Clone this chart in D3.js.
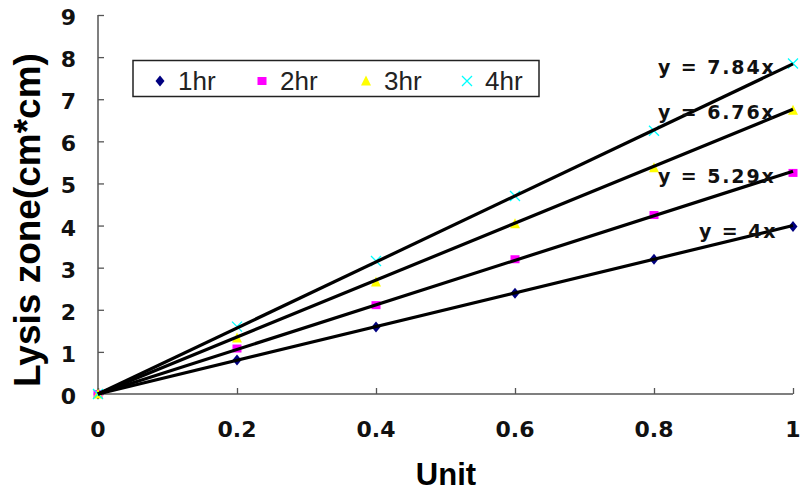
<!DOCTYPE html>
<html>
<head>
<meta charset="utf-8">
<script src="https://cdn.jsdelivr.net/npm/d3@7"></script>
<style>
  html, body { margin: 0; padding: 0; background: #fff; }
  svg { display: block; }
</style>
</head>
<body>
<svg id="chart" width="802" height="493"></svg>
<script>
// Lysis zone area per enzyme unit, measured after 1–4 hours
const units = [0, 0.2, 0.4, 0.6, 0.8, 1];
const seriesNames = ["1hr", "2hr", "3hr", "4hr"];
const lysis1hr = [0, 0.81, 1.59, 2.39, 3.2, 3.98];
const lysis2hr = [0, 1.08, 2.11, 3.2, 4.25, 5.25];
const lysis3hr = [0, 1.33, 2.66, 4.04, 5.37, 6.74];
const lysis4hr = [0, 1.6, 3.16, 4.7, 6.25, 7.85];
const slopes = [4, 5.29, 6.76, 7.84];
const xTicks = [0, 0.2, 0.4, 0.6, 0.8, 1];
const xTickLabels = ["0", "0.2", "0.4", "0.6", "0.8", "1"];
const yTicks = [0, 1, 2, 3, 4, 5, 6, 7, 8, 9];
const colors = ["#000080", "#ff00ff", "#ffff00", "#00ffff"];

const series = [lysis1hr, lysis2hr, lysis3hr, lysis4hr];

const svg = d3.select("#chart");
const margin = { left: 98, right: 9, top: 15, bottom: 99 };
const W = 802, H = 493;

const x = d3.scaleLinear().domain([0, 1]).range([margin.left, W - margin.right]);
const y = d3.scaleLinear().domain([0, 9]).range([H - margin.bottom, margin.top]);

const axisColor = "#555";
const tickFont = "'DejaVu Sans', sans-serif";

// Y axis: inward ticks, labels on the left
const yAxis = svg.append("g").attr("transform", `translate(${margin.left},0)`)
  .call(d3.axisRight(y).tickValues(yTicks).tickSize(6).tickFormat(""));
yAxis.select(".domain").attr("stroke", axisColor).attr("stroke-width", 1.5).attr("d", `M0,${y(9)}V${y(0)}`);
yAxis.selectAll(".tick line").attr("stroke", axisColor).attr("stroke-width", 1.3);

svg.append("g").selectAll("text").data(yTicks).join("text")
  .attr("x", 76).attr("y", d => y(d) + 10)
  .attr("text-anchor", "end")
  .attr("font-family", tickFont).attr("font-weight", "bold").attr("font-size", 22)
  .attr("fill", "#111")
  .text(d => d);

// X axis: inward ticks, labels below
const xAxis = svg.append("g").attr("transform", `translate(0,${y(0)})`)
  .call(d3.axisTop(x).tickValues(xTicks).tickSize(6).tickFormat(""));
xAxis.select(".domain").attr("stroke", axisColor).attr("stroke-width", 1.5).attr("d", `M${x(0)},0H${x(1)}`);
xAxis.selectAll(".tick line").attr("stroke", axisColor).attr("stroke-width", 1.3);

svg.append("g").selectAll("text").data(xTicks).join("text")
  .attr("x", d => x(d)).attr("y", y(0) + 43)
  .attr("text-anchor", "middle")
  .attr("font-family", tickFont).attr("font-weight", "bold").attr("font-size", 22)
  .attr("fill", "#111")
  .text((d, i) => xTickLabels[i]);

// Axis titles
svg.append("text")
  .attr("transform", `translate(40,220) rotate(-90)`)
  .attr("text-anchor", "middle")
  .attr("font-family", "'Liberation Sans', Arial, sans-serif").attr("font-weight", "bold").attr("font-size", 37)
  .attr("fill", "#000")
  .text("Lysis zone(cm*cm)");

svg.append("text")
  .attr("x", 446).attr("y", 485)
  .attr("text-anchor", "middle")
  .attr("font-family", "'Liberation Sans', Arial, sans-serif").attr("font-weight", "bold").attr("font-size", 31)
  .attr("fill", "#000")
  .text("Unit");

// Marker shapes
function marker(g, i, cx, cy) {
  const c = colors[i];
  if (i === 0) {
    g.append("path").attr("d", `M${cx},${cy - 5.5}L${cx + 4.5},${cy}L${cx},${cy + 5.5}L${cx - 4.5},${cy}Z`).attr("fill", c);
  } else if (i === 1) {
    g.append("rect").attr("x", cx - 4.5).attr("y", cy - 4).attr("width", 9).attr("height", 8).attr("fill", c);
  } else if (i === 2) {
    g.append("path").attr("d", `M${cx},${cy - 5.5}L${cx + 5},${cy + 4.5}L${cx - 5},${cy + 4.5}Z`).attr("fill", c);
  } else {
    g.append("path").attr("d", `M${cx - 5},${cy - 5}L${cx + 5},${cy + 5}M${cx - 5},${cy + 5}L${cx + 5},${cy - 5}`)
      .attr("stroke", c).attr("stroke-width", 1.3).attr("fill", "none");
  }
}

const markers = svg.append("g");
series.forEach((vals, i) => {
  vals.forEach((v, j) => marker(markers, i, x(units[j]), y(v)));
});

// Linear trendlines through the origin
const line = d3.line().x(d => x(d[0])).y(d => y(d[1]));
svg.append("g").selectAll("path").data(slopes).join("path")
  .attr("d", s => line([[0, 0], [1, s]]))
  .attr("stroke", "#000").attr("stroke-width", 3.2).attr("fill", "none");

// Trendline equations
const eqX = [699, 658, 658, 658];
const eqY = [238, 183, 119, 74];
svg.append("g").selectAll("text").data(slopes).join("text")
  .attr("x", (d, i) => eqX[i]).attr("y", (d, i) => eqY[i])
  .attr("font-family", tickFont).attr("font-weight", "bold").attr("font-size", 19)
  .attr("letter-spacing", 1.9)
  .attr("fill", "#111")
  .text(s => `y = ${s}x`);

// Legend
const legend = svg.append("g");
legend.append("rect").attr("x", 133).attr("y", 60.5).attr("width", 406).attr("height", 36)
  .attr("fill", "#fff").attr("stroke", "#222").attr("stroke-width", 1.5);
const legX = [160, 262, 366, 467];
seriesNames.forEach((name, i) => {
  marker(legend, i, legX[i], 81);
  legend.append("text").attr("x", legX[i] + 18).attr("y", 90)
    .attr("font-family", "'Liberation Sans', Arial, sans-serif").attr("font-size", 26)
    .attr("fill", "#222").text(name);
});
</script>
</body>
</html>
